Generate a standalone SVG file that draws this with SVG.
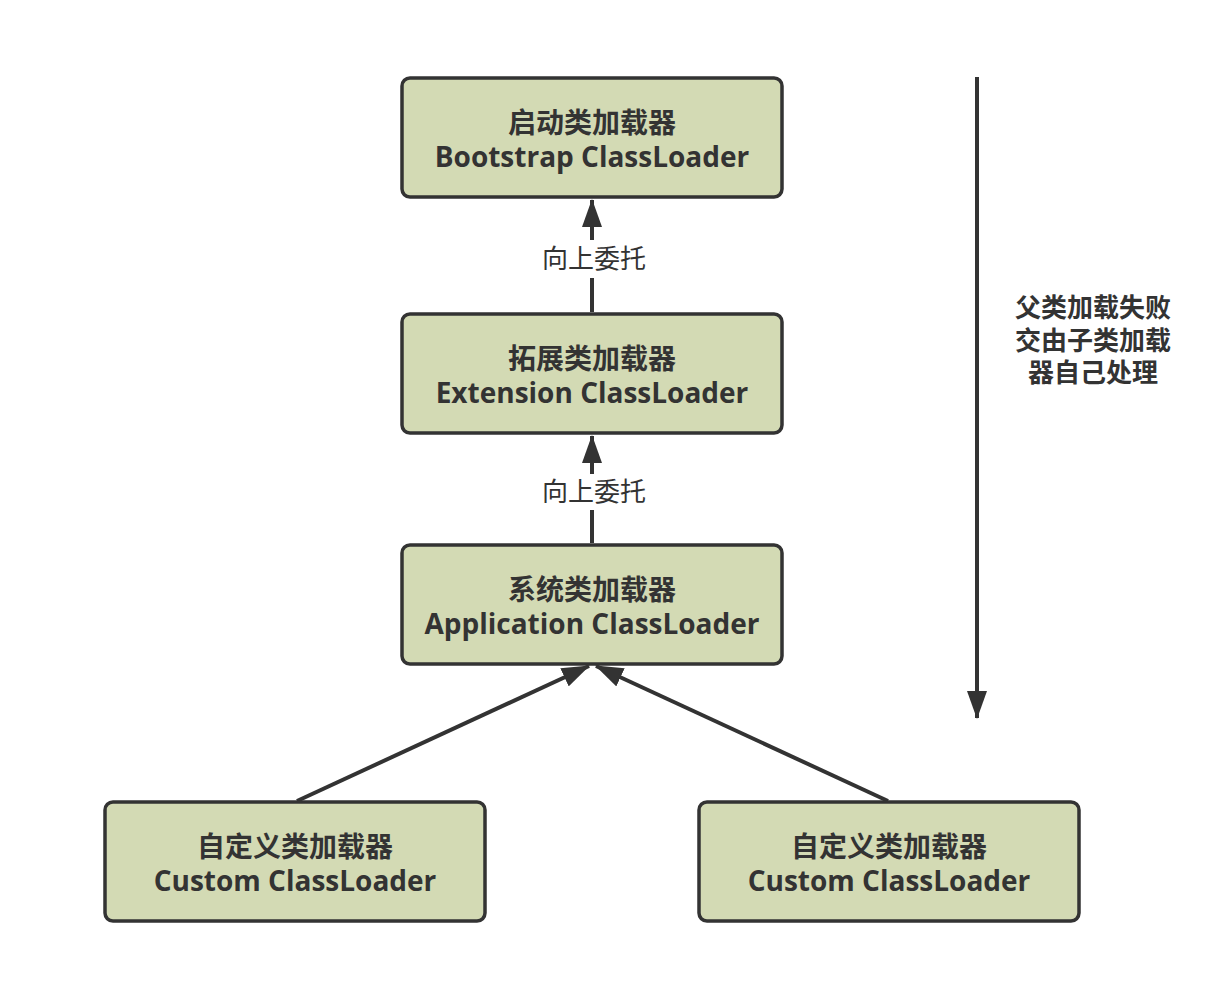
<svg xmlns="http://www.w3.org/2000/svg" width="1232" height="996" viewBox="0 0 1232 996">
<style>
.box{fill:#d3dab4;stroke:#333333;stroke-width:3.5}
.t{font-family:"Open Sans","Noto Sans CJK SC",sans-serif;font-weight:bold;font-size:28px;fill:#333333;text-anchor:middle}
.n{font-family:"Open Sans","Noto Sans CJK SC",sans-serif;font-weight:bold;font-size:26px;fill:#333333;text-anchor:middle}
.lbl{font-family:"Open Sans","Noto Sans CJK SC",sans-serif;font-size:26px;fill:#333333;text-anchor:middle}
.ln{stroke:#333333;stroke-width:4;fill:none}
</style>
<defs>
<marker id="ah2" markerWidth="28" markerHeight="20" refX="27" refY="10" orient="auto" markerUnits="userSpaceOnUse" viewBox="0 0 28 20">
<path d="M0,0 L28,10 L0,20 Z" fill="#333333"/>
</marker>
</defs>
<rect width="1232" height="996" fill="#ffffff"/>
<g id="connectors">
<line class="ln" x1="592" y1="240" x2="592" y2="200" marker-end="url(#ah2)"/>
<line class="ln" x1="592" y1="312" x2="592" y2="278"/>
<line class="ln" x1="592" y1="474" x2="592" y2="436" marker-end="url(#ah2)"/>
<line class="ln" x1="592" y1="543" x2="592" y2="510"/>
<line class="ln" x1="297" y1="801" x2="589" y2="666" marker-end="url(#ah2)"/>
<line class="ln" x1="888" y1="801" x2="596" y2="666" marker-end="url(#ah2)"/>
<line class="ln" x1="977" y1="77" x2="977" y2="718" marker-end="url(#ah2)"/>
<text class="lbl" x="594" y="268">向上委托</text>
<text class="lbl" x="594" y="501">向上委托</text>
</g>
<g id="bootstrap">
<rect class="box" x="402" y="78" width="380" height="119" rx="8"/>
<text class="t" x="592" y="133">启动类加载器</text>
<text class="t" x="592" y="167">Bootstrap ClassLoader</text>
</g>
<g id="extension">
<rect class="box" x="402" y="314" width="380" height="119" rx="8"/>
<text class="t" x="592" y="369">拓展类加载器</text>
<text class="t" x="592" y="403">Extension ClassLoader</text>
</g>
<g id="application">
<rect class="box" x="402" y="545" width="380" height="119" rx="8"/>
<text class="t" x="592" y="600">系统类加载器</text>
<text class="t" x="592" y="634">Application ClassLoader</text>
</g>
<g id="custom1">
<rect class="box" x="105" y="802" width="380" height="119" rx="8"/>
<text class="t" x="295" y="857">自定义类加载器</text>
<text class="t" x="295" y="891">Custom ClassLoader</text>
</g>
<g id="custom2">
<rect class="box" x="699" y="802" width="380" height="119" rx="8"/>
<text class="t" x="889" y="857">自定义类加载器</text>
<text class="t" x="889" y="891">Custom ClassLoader</text>
</g>
<g id="note">
<text class="n" x="1093" y="317">父类加载失败</text>
<text class="n" x="1093" y="350">交由子类加载</text>
<text class="n" x="1093" y="382">器自己处理</text>
</g>
</svg>
